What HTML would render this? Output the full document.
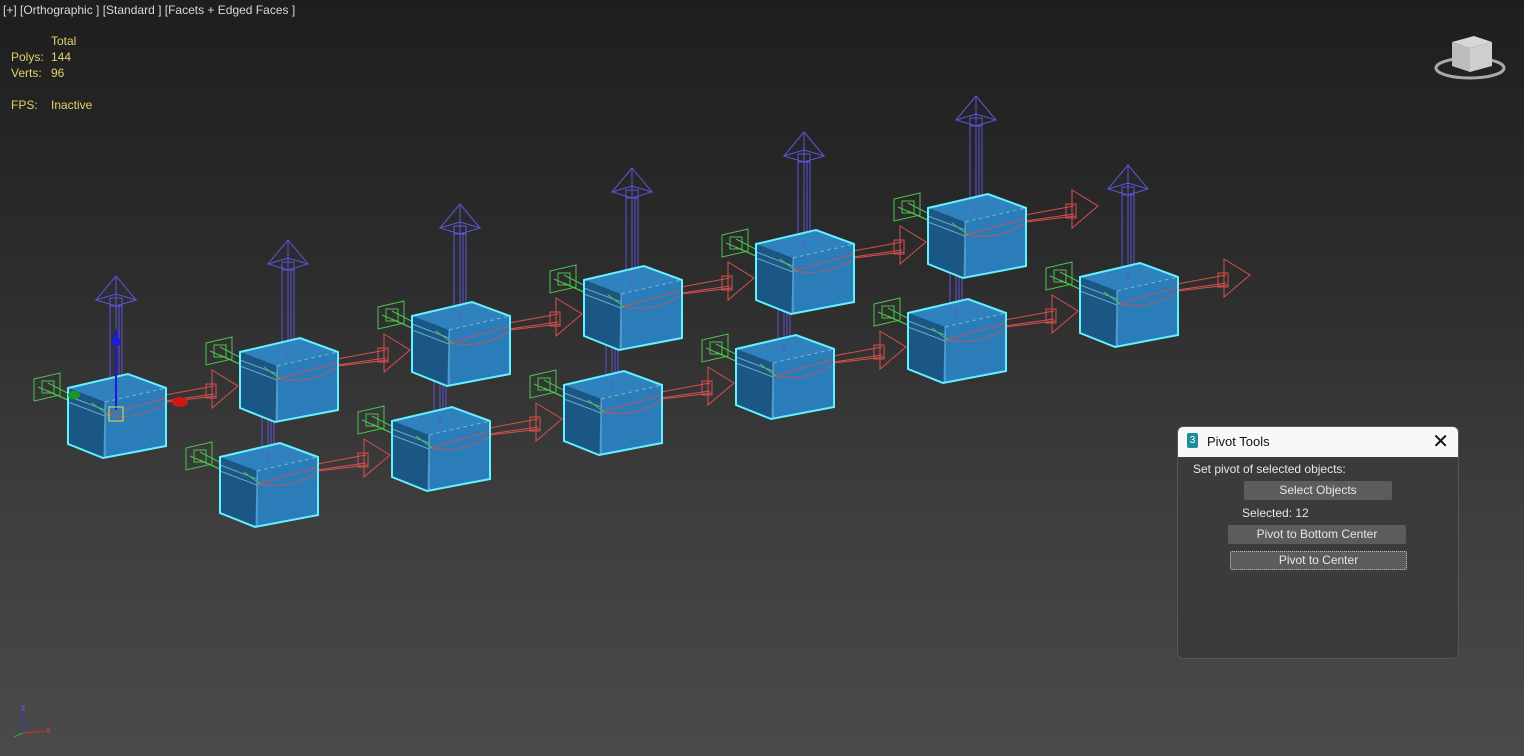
<!DOCTYPE html>
<html><head><meta charset="utf-8"><style>
html,body{margin:0;padding:0;width:1524px;height:756px;overflow:hidden}
body{background:linear-gradient(#1e1e1e 0%,#2c2c2c 35%,#3f3f3f 70%,#4a4a4a 100%);font-family:"Liberation Sans",sans-serif;position:relative}
.t{position:absolute;font-size:12px;white-space:nowrap}
.y{color:#e4d06a}
#dlg{position:absolute;left:1177px;top:426px;width:280px;height:231px;background:#3b3b3b;border:1px solid #555;border-radius:6px;overflow:hidden}
#dlg .title{height:30px;background:#f8f8f8;color:#111;font-size:13px;position:relative}
.btn{position:absolute;background:#5c5c5c;color:#e6e6e6;font-size:12px;text-align:center;border-radius:2px}
</style></head><body>
<svg id="s" width="1524" height="756" style="position:absolute;left:0;top:0"></svg>
<div class="t" style="left:3px;top:3px;color:#d8d8d8;font-size:12px">[+] [Orthographic ] [Standard ] [Facets + Edged Faces ]</div>
<div class="t y" style="left:51px;top:34px">Total</div>
<div class="t y" style="left:11px;top:50px">Polys:</div><div class="t y" style="left:51px;top:50px">144</div>
<div class="t y" style="left:11px;top:66px">Verts:</div><div class="t y" style="left:51px;top:66px">96</div>
<div class="t y" style="left:11px;top:98px">FPS:</div><div class="t y" style="left:51px;top:98px">Inactive</div>
<div id="dlg">
 <div class="title"><span style="position:absolute;left:9px;top:6px;width:11px;height:15px;background:#1e8c9a;color:#fff;font-size:10px;text-align:center;border-radius:2px;line-height:15px">3</span><span style="position:absolute;left:29px;top:7px">Pivot Tools</span><span style="position:absolute;right:9px;top:2px;font-size:20px;font-weight:300">✕</span></div>
 <div class="t" style="left:15px;top:35px;color:#e6e6e6">Set pivot of selected objects:</div>
 <div class="btn" style="left:66px;top:54px;width:148px;height:19px;line-height:19px">Select Objects</div>
 <div class="t" style="left:64px;top:79px;color:#e6e6e6">Selected: 12</div>
 <div class="btn" style="left:50px;top:98px;width:178px;height:19px;line-height:19px">Pivot to Bottom Center</div>
 <div class="btn" style="left:52px;top:124px;width:175px;height:17px;line-height:17px;border:1px dotted #bbb">Pivot to Center</div>
</div>
<script>
const s=document.getElementById('s');let h='';
const P=a=>a.map(p=>p.join(',')).join(' ');
function gz(x,y){
 const c=x+48;
 const tip=y-112,b=y-88;
 h+=`<g stroke="#5a55d8" stroke-width="1" fill="none">
 <line x1="${c-6}" y1="${y-4}" x2="${c-6}" y2="${b+4}"/><line x1="${c}" y1="${y-2}" x2="${c}" y2="${b+6}"/><line x1="${c+6}" y1="${y-4}" x2="${c+6}" y2="${b+4}"/><line x1="${c+3}" y1="${y-2}" x2="${c+3}" y2="${b+4}"/>
 <polygon points="${P([[c-20,b],[c,b-6],[c+20,b],[c,b+6]])}"/>
 <line x1="${c-20}" y1="${b}" x2="${c}" y2="${tip}"/><line x1="${c+20}" y1="${b}" x2="${c}" y2="${tip}"/><line x1="${c}" y1="${b+6}" x2="${c}" y2="${tip}"/>
 <rect x="${c-6}" y="${b-2}" width="12" height="8"/></g>`;
 const gx=x-34,gy=y-15;
 h+=`<g stroke="#4cc24c" stroke-width="1" fill="none">
 <polygon points="${P([[gx,gy+6],[gx+26,gy],[gx+26,gy+22],[gx,gy+28]])}"/>
 <rect x="${gx+8}" y="${gy+8}" width="12" height="12"/>
 <line x1="${gx+14}" y1="${gy+10}" x2="${x+40}" y2="${y+26}"/><line x1="${gx+14}" y1="${gy+18}" x2="${x+40}" y2="${y+30}"/><line x1="${gx+4}" y1="${gy+14}" x2="${x+36}" y2="${y+28}"/></g>`;
 const rx=x+98,ry=y+12;
 h+=`<g stroke="#d8504c" stroke-width="1" fill="none">
 <line x1="${rx-50}" y1="${ry+4}" x2="${rx+48}" y2="${ry-14}"/><line x1="${rx-50}" y1="${ry+8}" x2="${rx+48}" y2="${ry-6}"/><line x1="${rx}" y1="${ry+2}" x2="${rx+50}" y2="${ry-4}"/>
 <rect x="${rx+40}" y="${ry-16}" width="10" height="14"/>
 <polygon points="${P([[rx+46,ry-30],[rx+72,ry-14],[rx+46,ry+8]])}"/>
 <line x1="${rx+46}" y1="${ry-30}" x2="${rx+46}" y2="${ry+8}"/></g>`;
}
function cube(x,y){
 const L=[x,y],B=[x+60,y-14],R=[x+98,y],F=[x+37,y+14],LB=[x,y+56],FB=[x+35,y+70],RB=[x+98,y+58];
 h+=`<polygon points="${P([L,B,R,F])}" fill="#2f82be"/>
 <polygon points="${P([L,F,FB,LB])}" fill="#1b5784"/>
 <polygon points="${P([F,R,RB,FB])}" fill="#2b7db9"/>
 <g stroke="#9fdcf0" stroke-width="1" fill="none" opacity=".6"><line x1="${x}" y1="${y+8}" x2="${x+37}" y2="${y+22}"/><line x1="${x}" y1="${y+14}" x2="${x+37}" y2="${y+28}"/><line x1="${x+37}" y1="${y+14}" x2="${x+37}" y2="${y+70}"/><line x1="${x+37}" y1="${y+14}" x2="${x+98}" y2="${y}" stroke-dasharray="4 3"/></g>
 <g stroke="#d8504c" stroke-width="1" fill="none" opacity=".8"><path d="M${x+38} ${y+27} Q${x+70} ${y+33} ${x+98} ${y+15}"/><path d="M${x+38} ${y+27} Q${x+70} ${y+18} ${x+98} ${y+10}"/></g>
 <line x1="${x+24}" y1="${y+15}" x2="${x+40}" y2="${y+27}" stroke="#4cc24c"/>
 <text x="${x+45}" y="${y+3}" font-size="9" fill="#5a55d8" font-family="Liberation Sans">Z</text>
 <polygon points="${P([L,B,R,RB,FB,LB])}" fill="none" stroke="#63f2ff" stroke-width="2"/>`;
}
const r1=[],r2=[];
for(let i=0;i<6;i++){r1.push([68+172*i,388-36*i]);r2.push([220+172*i,457-36*i]);}
r1.concat(r2).forEach(p=>gz(p[0],p[1]));
r1.forEach(p=>cube(p[0],p[1]));r2.forEach(p=>cube(p[0],p[1]));
h+=`<polygon points="116,328 111,345 121,345" fill="#1a1ae0"/><line x1="116" y1="345" x2="116" y2="410" stroke="#1a1ae0" stroke-width="2"/>
<ellipse cx="180" cy="402" rx="8" ry="5" fill="#d01818"/><ellipse cx="74" cy="395" rx="6" ry="4" fill="#1a9a1a"/>
<rect x="109" y="407" width="14" height="14" fill="none" stroke="#e2e24a"/>`;
h+=`<ellipse cx="1470" cy="68" rx="34" ry="10" fill="none" stroke="#aaa" stroke-width="3"/>
<polygon points="1452,42 1474,36 1492,42 1470,48" fill="#d8d8d8"/><polygon points="1452,42 1470,48 1470,72 1452,66" fill="#bdbdbd"/><polygon points="1470,48 1492,42 1492,66 1470,72" fill="#cfcfcf"/>`;
h+=`<line x1="23" y1="733" x2="23" y2="710" stroke="#3a3ad8"/><line x1="23" y1="733" x2="45" y2="731" stroke="#d03030"/><line x1="23" y1="733" x2="14" y2="737" stroke="#30b030"/>
<text x="21" y="710" font-size="9" fill="#6060e0">z</text><text x="46" y="733" font-size="9" fill="#e04040">x</text>`;
s.innerHTML=h;
</script>
</body></html>
